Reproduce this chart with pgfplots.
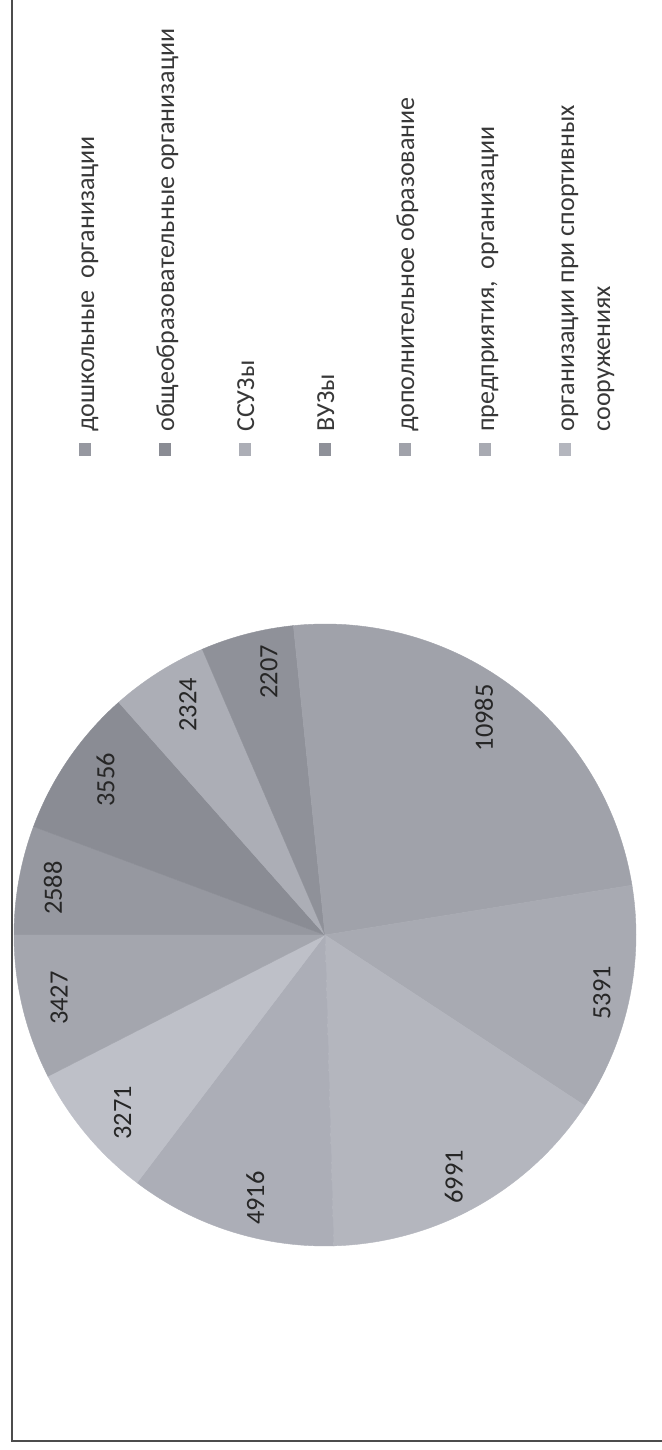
\documentclass[border=0pt]{standalone}
\usepackage{pgfplots}
\pgfplotsset{compat=1.18}
\usepackage{pgfplotstable}
\usepackage{fontspec}
\setmainfont{Carlito}
\definecolor{c1}{RGB}{150,152,160}
\definecolor{c2}{RGB}{138,140,148}
\definecolor{c3}{RGB}{172,174,182}
\definecolor{c4}{RGB}{143,145,153}
\definecolor{c5}{RGB}{160,162,170}
\definecolor{c6}{RGB}{168,170,178}
\definecolor{c7}{RGB}{180,182,190}
\definecolor{c8}{RGB}{172,174,183}
\definecolor{c9}{RGB}{190,192,200}
\definecolor{c10}{RGB}{164,166,174}
\pgfplotstableread{
value col
2588 c1
3556 c2
2324 c3
2207 c4
10985 c5
5391 c6
6991 c7
4916 c8
3271 c9
3427 c10
}\piedata
\tikzset{lbl/.style={rotate=90, inner sep=0pt, text=black!85, font=\fontsize{13.2}{15}\selectfont}}
\newcommand\legentry[4][0pt]{%
  \fill[#3] ({42.5pt+40pt*#2-3.2pt},497pt) rectangle ({42.5pt+40pt*#2+3.2pt},503.5pt);
  \node[rotate=90, anchor=base west, inner sep=0pt, align=left, text=black!78,
        font=\fontsize{13}{18}\selectfont] at ({47pt+40pt*#2+#1},509pt) {#4};}
\begin{document}
\begin{tikzpicture}
\useasboundingbox (0,0) rectangle (331pt,725pt);
\fill[white] (0,0) rectangle (331pt,725pt);
\draw[line width=0.7pt, black!70] (6pt,725pt) -- (6pt,4.5pt) -- (331pt,4.5pt);
\begin{axis}[
  at={(162.5pt,257.5pt)}, anchor=center,
  scale only axis, width=311pt, height=311pt,
  xmin=-1, xmax=1, ymin=-1, ymax=1,
  hide axis, clip=false,
]
\pgfplotstablegetrowsof{\piedata}
\pgfmathtruncatemacro\nrows{\pgfplotsretval-1}
\def\total{0}
\pgfplotsforeachungrouped \i in {0,...,\nrows}{%
  \pgfplotstablegetelem{\i}{value}\of\piedata
  \pgfmathsetmacro\total{\total+\pgfplotsretval/1000}%
}
\def\cum{0}
\pgfplotsforeachungrouped \i in {0,...,\nrows}{%
  \pgfplotstablegetelem{\i}{value}\of\piedata
  \let\v\pgfplotsretval
  \pgfplotstablegetelem{\i}{col}\of\piedata
  \let\c\pgfplotsretval
  \pgfmathsetmacro\angB{180-360*(\cum/\total)}%
  \pgfmathsetmacro\cum{\cum+\v/1000}%
  \pgfmathsetmacro\angA{180-360*(\cum/\total)}%
  \edef\doplot{\noexpand\addplot[fill=\c, draw=\c, line width=0.2pt, domain=\angA:\angB, samples=80] ({cos(x)},{sin(x)}) -- (axis cs:0,0) -- cycle;}%
  \doplot
}
\node[lbl] at (axis cs:-0.875,0.151) {2588};
\node[lbl] at (axis cs:-0.706,0.499) {3556};
\node[lbl] at (axis cs:-0.441,0.740) {2324};
\node[lbl] at (axis cs:-0.180,0.846) {2207};
\node[lbl] at (axis cs:0.511,0.698) {10985};
\node[lbl] at (axis cs:0.890,-0.186) {5391};
\node[lbl] at (axis cs:0.414,-0.778) {6991};
\node[lbl] at (axis cs:-0.224,-0.846) {4916};
\node[lbl] at (axis cs:-0.651,-0.572) {3271};
\node[lbl] at (axis cs:-0.855,-0.203) {3427};
\end{axis}
\legentry{0}{c1}{дошкольные~~организации}
\legentry{1}{c2}{общеобразовательные организации}
\legentry{2}{c3}{ССУЗы}
\legentry{3}{c4}{ВУЗы}
\legentry{4}{c5}{дополнительное образование}
\legentry{5}{c6}{предприятия,~~организации}
\legentry[18pt]{6}{c7}{организации при спортивных\\сооружениях}
\end{tikzpicture}
\end{document}
